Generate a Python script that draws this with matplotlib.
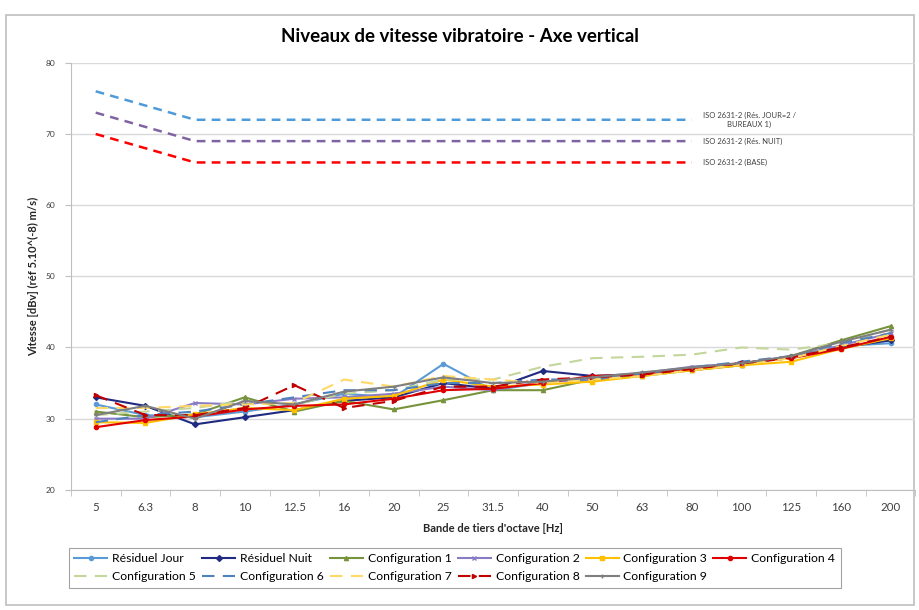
import matplotlib
matplotlib.use("Agg")
import matplotlib.pyplot as plt
import numpy as np
from matplotlib.patches import Rectangle

plt.rcParams['font.family'] = ['Lato', 'DejaVu Sans']

categories = ['5', '6.3', '8', '10', '12.5', '16', '20', '25', '31.5', '40',
              '50', '63', '80', '100', '125', '160', '200']

res_jour = [32.0, 30.5, 30.2, 31.0, 32.0, 33.5, 33.0, 37.7, 34.0, 35.0, 35.8, 36.2, 37.0, 37.6, 38.8, 40.2, 40.6]
res_nuit = [33.0, 31.8, 29.2, 30.2, 31.2, 32.5, 33.0, 35.0, 34.2, 36.7, 36.0, 36.3, 37.0, 37.8, 38.6, 40.0, 41.0]
config1 = [31.0, 30.2, 30.6, 33.0, 31.0, 32.5, 31.3, 32.6, 34.0, 34.0, 35.5, 36.0, 36.8, 37.5, 38.8, 41.0, 43.0]
config2 = [30.0, 30.0, 32.2, 32.0, 32.8, 33.0, 33.5, 34.5, 34.0, 35.2, 35.5, 36.4, 37.3, 37.8, 38.5, 40.3, 42.0]
config3 = [29.5, 29.4, 30.6, 31.5, 31.2, 32.8, 33.2, 35.5, 34.5, 34.8, 35.2, 36.0, 36.8, 37.5, 38.0, 39.8, 41.3]
config4 = [28.8, 29.8, 30.3, 31.3, 31.8, 32.0, 32.8, 34.0, 34.2, 35.0, 36.0, 36.2, 37.0, 37.8, 38.5, 39.8, 41.5]
config5 = [30.5, 31.0, 31.5, 32.5, 32.0, 33.5, 34.0, 35.5, 35.5, 37.3, 38.5, 38.7, 39.0, 40.0, 39.7, 40.6, 42.5]
config6 = [29.5, 30.5, 31.0, 32.0, 33.0, 34.0, 34.0, 35.0, 35.0, 35.5, 35.5, 36.3, 37.2, 38.0, 38.8, 40.6, 42.0]
config7 = [31.5, 31.5, 31.8, 32.0, 32.2, 35.5, 34.5, 36.0, 35.5, 35.0, 35.5, 36.0, 36.8, 37.6, 38.5, 40.2, 41.8]
config8 = [33.3, 30.5, 30.5, 31.5, 34.7, 31.5, 32.5, 34.5, 34.5, 35.5, 35.8, 36.2, 37.0, 37.8, 38.6, 40.0, 41.5]
config9 = [30.5, 31.8, 30.0, 32.5, 32.0, 33.8, 34.5, 35.8, 35.0, 35.2, 35.8, 36.5, 37.2, 37.8, 38.8, 40.8, 42.5]

iso_jour = [76, 74, 72, 72, 72, 72, 72, 72, 72, 72, 72, 72, 72]
iso_nuit = [73, 71, 69, 69, 69, 69, 69, 69, 69, 69, 69, 69, 69]
iso_base = [70, 68, 66, 66, 66, 66, 66, 66, 66, 66, 66, 66, 66]

iso_labels = ['ISO 2631-2 (Rés. JOUR=2 /\nBUREAUX 1)', 'ISO 2631-2 (Rés. NUIT)', 'ISO 2631-2 (BASE)']

series = [
    ('Résiduel Jour', res_jour, '#5B9BD5', '-', 'o'),
    ('Résiduel Nuit', res_nuit, '#1F2A80', '-', 'D'),
    ('Configuration 1', config1, '#77933C', '-', '^'),
    ('Configuration 2', config2, '#8A7CC4', '-', 'x'),
    ('Configuration 3', config3, '#FFC000', '-', 's'),
    ('Configuration 4', config4, '#E00000', '-', 'o'),
    ('Configuration 5', config5, '#C3D69B', (0, (6, 4)), None),
    ('Configuration 6', config6, '#4F81BD', (0, (6, 4)), None),
    ('Configuration 7', config7, '#FFD966', (0, (6, 4)), None),
    ('Configuration 8', config8, '#C00000', (0, (6, 4)), '>'),
    ('Configuration 9', config9, '#7F7F7F', '-', '+'),
]

fig = plt.figure(figsize=(9.2, 6.1), dpi=100)
fig.patch.set_facecolor('white')

# chart area frame
frame = Rectangle((0.006, 0.008), 0.988, 0.968, transform=fig.transFigure,
                  facecolor='none', edgecolor='#BFBFBF', linewidth=1.2, zorder=-5)
fig.patches.append(frame)

ax = fig.add_axes([0.077, 0.197, 0.918, 0.700])
ax.set_facecolor('none')
x = np.arange(len(categories))

handles = []
for name, vals, col, ls, mk in series:
    h, = ax.plot(x, vals, color=col, linestyle=ls, linewidth=1.5, marker=mk,
                 markersize=3, markeredgewidth=1, label=name, zorder=3)
    handles.append(h)

iso_cols = ['#4F9BD9', '#8064A2', '#FF0000']
for vals, col, lab in zip([iso_jour, iso_nuit, iso_base], iso_cols, iso_labels):
    xi = np.arange(len(vals))
    ax.plot(xi, vals, color=col, linestyle=(0, (3.5, 2.5)), linewidth=1.8, zorder=3)
    ax.annotate(lab, xy=(xi[-1], vals[-1]), xytext=(8, 0), textcoords='offset points',
                fontsize=5.5, color='#404040', va='center', ha='left', multialignment='center')

ax.set_xlim(-0.5, len(categories) - 0.5)
ax.set_ylim(20, 80)
ax.set_yticks(np.arange(20, 81, 10))
ax.set_xticks(x)
ax.set_xticklabels(categories)
ax.set_xticks(np.arange(-0.5, len(categories), 1), minor=True)
ax.tick_params(axis='x', which='major', length=0, labelsize=8.3, colors='#404040', pad=9)
ax.tick_params(axis='x', which='minor', length=4, color='#BFBFBF', direction='out')
ax.tick_params(axis='y', length=4, color='#BFBFBF', labelsize=6, labelcolor='#404040', pad=7)
ax.grid(axis='y', color='#D9D9D9', linewidth=1)
ax.set_axisbelow(True)
for s in ['top', 'right']:
    ax.spines[s].set_visible(False)
for s in ['left', 'bottom']:
    ax.spines[s].set_color('#BFBFBF')

ax.set_xlabel("Bande de tiers d'octave [Hz]", fontsize=8, fontweight='bold', color='#262626', labelpad=7)
ax.set_ylabel('Vitesse [dBv] (réf 5.10^(-8) m/s)', fontsize=8, fontweight='bold', color='#262626', labelpad=5)

fig.text(0.5, 0.94, 'Niveaux de vitesse vibratoire - Axe vertical', ha='center', va='center',
         fontsize=13.5, fontweight='bold', color='#000000')

order = [0, 6, 1, 7, 2, 8, 3, 9, 4, 10, 5]
leg = fig.legend([handles[i] for i in order], [series[i][0] for i in order],
                 ncol=6, loc='upper left', bbox_to_anchor=(0.068, 0.112),
                 fontsize=8.8, frameon=True, fancybox=False, edgecolor='#8C8C8C',
                 handlelength=2.7, handletextpad=0.4, columnspacing=0.5,
                 borderpad=0.45, labelspacing=0.55)
leg.get_frame().set_linewidth(0.8)

fig.savefig('out.png', dpi=100)
